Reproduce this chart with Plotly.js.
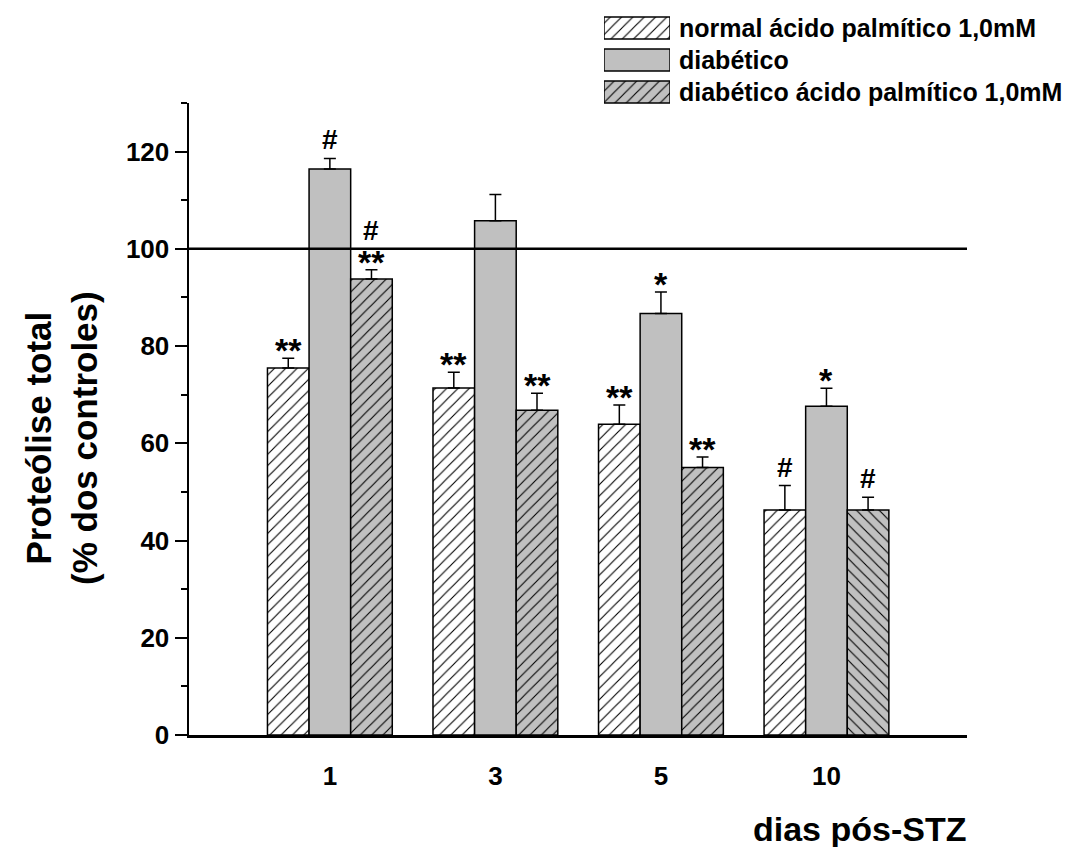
<!DOCTYPE html>
<html>
<head>
<meta charset="utf-8">
<script src="https://cdn.plot.ly/plotly-3.0.1.min.js"></script>
<style>
  html, body { margin: 0; padding: 0; background: #ffffff; }
  #chart { width: 1069px; height: 847px; }
</style>
</head>
<body>
<div id="chart"></div>
<script>
// Days after STZ (x categories)
const days = ['1', '3', '5', '10'];

// Series names
const seriesNames = [
  'normal ácido palmítico 1,0mM',
  'diabético',
  'diabético ácido palmítico 1,0mM'
];

// Total proteolysis (% of controls) and SEM
const normalPalm = [75.5, 71.4, 63.9, 46.3];
const normalPalmErr = [2.0, 3.2, 4.0, 5.0];
const diabetic = [116.4, 105.8, 86.7, 67.6];
const diabeticErr = [2.2, 5.4, 4.4, 3.7];
const diabeticPalm = [93.8, 66.8, 55.0, 46.3];
const diabeticPalmErr = [1.9, 3.5, 2.2, 2.6];

// Significance marks above each bar (listed from top line to bottom line)
const normalPalmSig = [['**'], ['**'], ['**'], ['#']];
const diabeticSig = [['#'], [], ['*'], ['*']];
const diabeticPalmSig = [['#', '**'], ['**'], ['**'], ['#']];

// Control reference level
const controlLevel = 100;

// Y-axis ticks
const yTickVals = [0, 20, 40, 60, 80, 100, 120];

// ---- styling ----
const FONT = 'Liberation Sans, Arial, Helvetica, sans-serif';
const GRAY = '#c0c0c0';
const BARGAP = 0.246;
const barW = (1 - BARGAP) / 3;
const xIdx = days.map((d, i) => i);

const styles = [
  { color: 'white', pattern: { shape: '/', bgcolor: 'white', fgcolor: 'black', size: 8, solidity: 0.14, fillmode: 'replace' } },
  { color: GRAY, pattern: { shape: '', bgcolor: GRAY } },
  { color: GRAY, pattern: { shape: ['/', '/', '/', '\\'], bgcolor: GRAY, fgcolor: 'black', size: 8, solidity: 0.14, fillmode: 'replace' } }
];

const values = [normalPalm, diabetic, diabeticPalm];
const errors = [normalPalmErr, diabeticErr, diabeticPalmErr];
const sigs = [normalPalmSig, diabeticSig, diabeticPalmSig];

const traces = values.map((vals, s) => ({
  type: 'bar',
  name: seriesNames[s],
  x: xIdx,
  y: vals,
  showlegend: false,
  marker: {
    color: styles[s].color,
    pattern: styles[s].pattern,
    line: { color: 'black', width: 1.5 }
  },
  error_y: {
    type: 'data',
    symmetric: false,
    array: errors[s],
    arrayminus: errors[s].map(() => 0),
    color: 'black',
    thickness: 1.5,
    width: 6
  },
  hoverinfo: 'skip'
}));

// Legend key: one horizontal bar per series on a small hidden subplot
seriesNames.forEach((name, s) => {
  const pat = Object.assign({}, styles[s].pattern);
  if (Array.isArray(pat.shape)) pat.shape = pat.shape[0];
  traces.push({
    type: 'bar',
    orientation: 'h',
    x: [1],
    y: [s],
    base: 0,
    width: 0.69,
    offset: -0.345,
    xaxis: 'x2',
    yaxis: 'y2',
    showlegend: false,
    marker: { color: styles[s].color, pattern: pat, line: { color: 'black', width: 1.5 } },
    hoverinfo: 'skip'
  });
});

// Significance annotations
const annotations = [];
sigs.forEach((sigSeries, s) => {
  sigSeries.forEach((lines, g) => {
    const top = values[s][g] + errors[s][g];
    const n = lines.length;
    lines.forEach((txt, li) => {
      const level = n - 1 - li;           // 0 = closest to the bar
      const isStar = txt.indexOf('*') >= 0;
      annotations.push({
        xref: 'x', yref: 'y',
        x: g + (s - 1) * barW,
        y: top,
        text: txt,
        showarrow: false,
        xanchor: 'center',
        yanchor: 'bottom',
        yshift: (isStar ? -13 : 1) + level * 21,
        font: { family: FONT, size: isStar ? 34 : 28, color: 'black', weight: 'bold' }
      });
    });
  });
});

// Legend labels
seriesNames.forEach((name, s) => {
  annotations.push({
    xref: 'paper', yref: 'y2',
    x: 0.6272, y: s,
    text: name,
    showarrow: false,
    xanchor: 'left', yanchor: 'middle',
    font: { family: FONT, size: 25, color: 'black', weight: 'bold' }
  });
});

// Axis titles
annotations.push({
  xref: 'paper', yref: 'paper',
  x: -0.163, y: 0.41,
  text: 'Proteólise total<br>(% dos controles)',
  textangle: -90,
  showarrow: false,
  xanchor: 'center', yanchor: 'middle',
  font: { family: FONT, size: 35, color: 'black', weight: 'bold' }
});
annotations.push({
  xref: 'paper', yref: 'paper',
  x: 0.862, y: -0.13,
  text: 'dias pós-STZ',
  showarrow: false,
  xanchor: 'center', yanchor: 'middle',
  font: { family: FONT, size: 34, color: 'black', weight: 'bold' }
});

const layout = {
  width: 1069,
  height: 847,
  margin: { l: 189, r: 102, t: 10, b: 112 },
  paper_bgcolor: 'white',
  plot_bgcolor: 'rgba(0,0,0,0)',
  barmode: 'group',
  bargap: BARGAP,
  bargroupgap: 0,
  showlegend: false,
  font: { family: FONT, color: 'black' },
  xaxis: {
    domain: [0, 1],
    range: [-0.851, 3.849],
    tickvals: xIdx,
    ticktext: days,
    ticks: '',
    showgrid: false,
    zeroline: false,
    showline: true,
    linecolor: 'black',
    linewidth: 2.5,
    ticklabelstandoff: 16,
    tickfont: { family: FONT, size: 26, color: 'black', weight: 'bold' }
  },
  yaxis: {
    domain: [0, 632 / 725],
    range: [0, 130],
    tickvals: yTickVals,
    ticks: 'outside',
    ticklen: 12,
    tickwidth: 2,
    tickcolor: 'black',
    minor: { dtick: 10, tick0: 0, ticks: 'outside', ticklen: 6, tickwidth: 2, tickcolor: 'black', showgrid: false },
    showgrid: false,
    zeroline: false,
    showline: true,
    linecolor: 'black',
    linewidth: 2.5,
    tickfont: { family: FONT, size: 26, color: 'black', weight: 'bold' }
  },
  xaxis2: {
    domain: [0.5334, 0.6183],
    range: [0, 1],
    anchor: 'y2',
    visible: false,
    fixedrange: true
  },
  yaxis2: {
    domain: [(735 - 108) / 725, (735 - 12) / 725],
    range: [2.5, -0.5],
    anchor: 'x2',
    visible: false,
    fixedrange: true
  },
  shapes: [{
    type: 'line',
    xref: 'paper', yref: 'y',
    x0: 0, x1: 1,
    y0: controlLevel, y1: controlLevel,
    line: { color: 'black', width: 2.5 },
    layer: 'above'
  }],
  annotations: annotations
};

Plotly.newPlot('chart', traces, layout, { displayModeBar: false, staticPlot: true });
</script>
</body>
</html>
